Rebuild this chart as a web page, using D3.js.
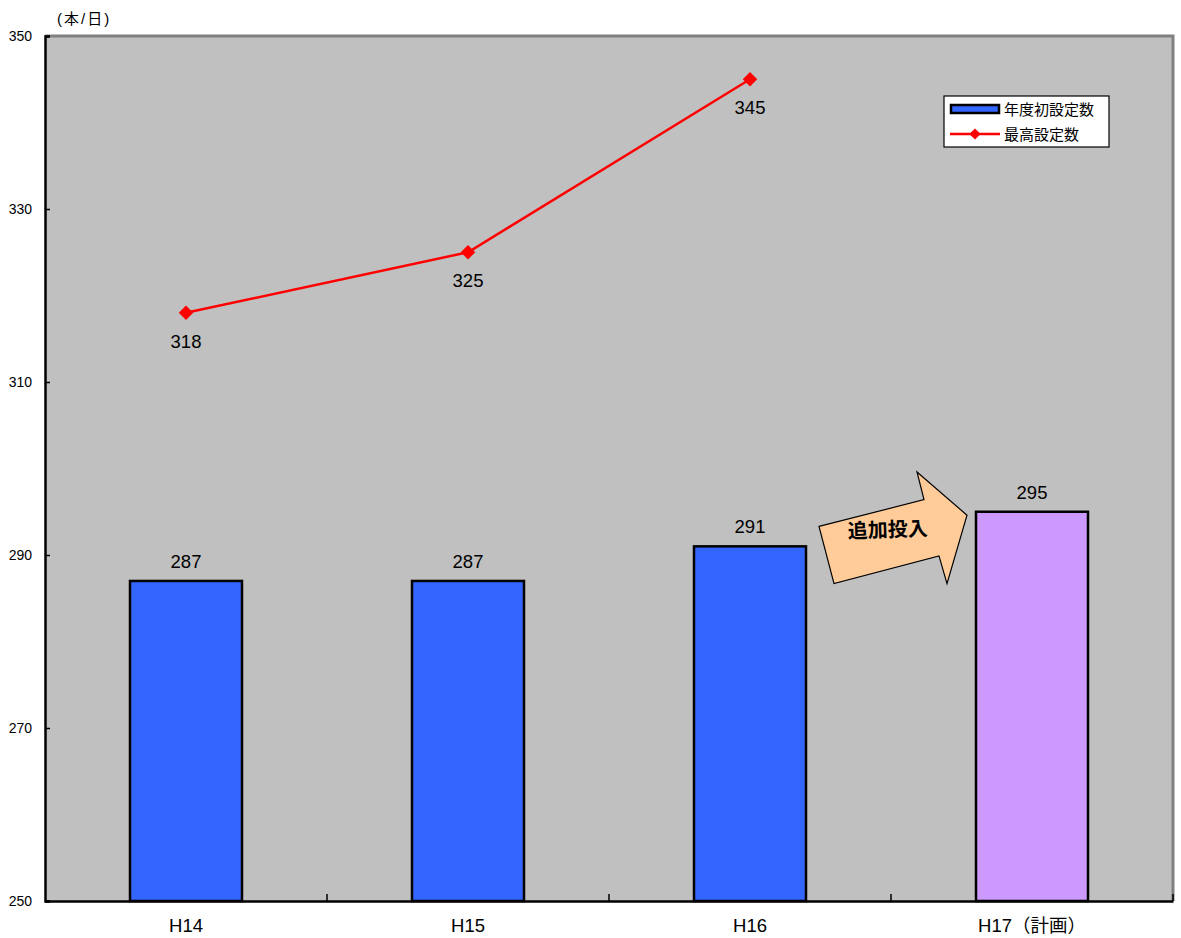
<!DOCTYPE html>
<html><head><meta charset="utf-8">
<script src="https://cdn.jsdelivr.net/npm/d3@7"></script>
<style>
body{margin:0;background:#fff;}
svg text{font-family:"Liberation Sans",Arial,"Noto Sans CJK JP",sans-serif;}
</style></head>
<body><svg id="c" width="1181" height="938"></svg>
<script>
const categories = ["H14","H15","H16","H17（計画）"];
const initialCounts = [287,287,291,295];      // 年度初設定数
const maxCounts = [318,325,345];              // 最高設定数 (H14-H16)
const yTicks = [250,270,290,310,330,350];
const seriesNames = ["年度初設定数","最高設定数"];
const unitLabel = "(本/日)";
const arrowLabel = "追加投入";

const svg = d3.select("#c");
const m = {l:45,t:36,r:1173,b:901};
const x = d3.scaleBand().domain(categories).range([m.l,m.r]).paddingInner(0).paddingOuter(0);
const y = d3.scaleLinear().domain([250,350]).range([m.b,m.t]);

// plot background
svg.append("rect").attr("x",m.l).attr("y",m.t).attr("width",m.r-m.l).attr("height",m.b-m.t).attr("fill","#C0C0C0");
// top & right border gray
svg.append("path").attr("d",`M${m.l},${m.t}H${m.r}V${m.b}`).attr("fill","none").attr("stroke","#808080").attr("stroke-width",3);

// bars
const bw = 112;
svg.selectAll("rect.bar").data(initialCounts).join("rect").attr("class","bar")
  .attr("x",(d,i)=>x(categories[i])+x.bandwidth()/2-bw/2)
  .attr("y",d=>y(d)).attr("width",bw).attr("height",d=>y(250)-y(d))
  .attr("fill",(d,i)=>i===3?"#CC99FF":"#3366FF").attr("stroke","#000").attr("stroke-width",2.5);
svg.selectAll("text.bl").data(initialCounts).join("text").attr("class","bl")
  .attr("x",(d,i)=>x(categories[i])+x.bandwidth()/2).attr("y",d=>y(d)-13)
  .attr("text-anchor","middle").attr("font-size",18.5).text(d=>d);

// axes
const yAxis = d3.axisLeft(y).tickValues(yTicks).tickSize(-5).tickPadding(13);
const gy = svg.append("g").attr("transform",`translate(${m.l},0)`).call(yAxis);
gy.select(".domain").attr("stroke","#000").attr("stroke-width",2.5);
gy.selectAll(".tick line").attr("stroke","#000").attr("stroke-width",1.5);
gy.selectAll(".tick text").attr("font-size",14).attr("fill","#000").attr("font-family","Liberation Sans, Arial, sans-serif");

const xAxis = d3.axisBottom(x).tickSize(0).tickPadding(18);
const gx = svg.append("g").attr("transform",`translate(0,${m.b})`).call(xAxis);
gx.select(".domain").attr("stroke","#000").attr("stroke-width",2.5);
gx.selectAll(".tick text").attr("font-size",18.5).attr("fill","#000").attr("font-family","Liberation Sans, Arial, Noto Sans CJK JP, sans-serif");
// category boundary ticks (inward)
const bounds = categories.slice(1).map(c=>x(c)).concat([m.r]);
svg.selectAll("line.bt").data(bounds).join("line").attr("class","bt")
  .attr("x1",d=>d).attr("x2",d=>d).attr("y1",m.b).attr("y2",m.b-7).attr("stroke","#000").attr("stroke-width",1.5);

// line
const cx = i => x(categories[i])+x.bandwidth()/2;
svg.append("path").datum(maxCounts)
  .attr("d",d3.line().x((d,i)=>cx(i)).y(d=>y(d)))
  .attr("fill","none").attr("stroke","#FF0000").attr("stroke-width",2.5);
const diamond = d3.symbol().type(d3.symbolDiamond2).size(135);
svg.selectAll("path.mk").data(maxCounts).join("path").attr("class","mk")
  .attr("transform",(d,i)=>`translate(${cx(i)},${y(d)})`).attr("d",diamond).attr("fill","#FF0000");
svg.selectAll("text.ll").data(maxCounts).join("text").attr("class","ll")
  .attr("x",(d,i)=>cx(i)).attr("y",d=>y(d)+35)
  .attr("text-anchor","middle").attr("font-size",18.5).text(d=>d);

// unit label
svg.append("text").attr("x",57).attr("y",24).attr("font-size",15).attr("letter-spacing",2).text(unitLabel);

// arrow annotation between H16 and H17
const ax0 = x(categories[2])+x.bandwidth()/2+bw/2; // right edge of H16 bar
const pts = [[ax0+13,y(293.3)],[ax0+118,y(296.4)],[ax0+111,y(299.6)],[ax0+161,y(294.6)],[ax0+141,y(286.7)],[ax0+133,y(289.9)],[ax0+28,y(286.7)]];
svg.append("polygon").attr("points",pts.map(p=>p.join(",")).join(" "))
  .attr("fill","#FFCC99").attr("stroke","#000").attr("stroke-width",1.2);
svg.append("text").attr("x",ax0+82).attr("y",y(292.1)).attr("text-anchor","middle")
  .attr("font-size",20).attr("font-weight","bold").attr("font-family","Noto Sans CJK JP, sans-serif")
  .attr("transform",`rotate(-2 ${ax0+82} ${y(292.1)})`).text(arrowLabel);

// legend
const lg = svg.append("g").attr("transform","translate(944,96)");
lg.append("rect").attr("width",165).attr("height",51).attr("fill","#fff").attr("stroke","#000").attr("stroke-width",1.2);
lg.append("rect").attr("x",7).attr("y",9).attr("width",48).attr("height",8).attr("fill","#3366FF").attr("stroke","#000").attr("stroke-width",2.5);
lg.append("line").attr("x1",6).attr("x2",56).attr("y1",38).attr("y2",38).attr("stroke","#FF0000").attr("stroke-width",2.5);
lg.append("path").attr("transform","translate(31,38)").attr("d",d3.symbol().type(d3.symbolDiamond2).size(80)).attr("fill","#FF0000");
lg.selectAll("text").data(seriesNames).join("text").attr("x",60).attr("y",(d,i)=>19+i*25)
  .attr("font-size",15).attr("font-family","Noto Sans CJK JP, sans-serif").text(d=>d);
</script></body></html>
